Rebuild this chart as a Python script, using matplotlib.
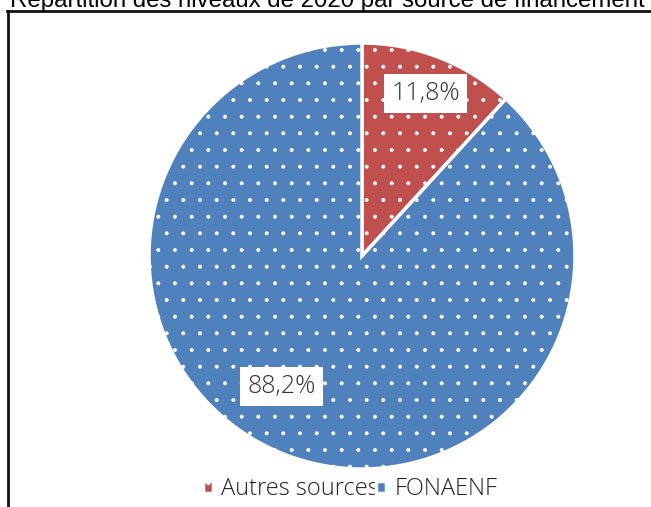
import numpy as np
import matplotlib
matplotlib.use('Agg')
import matplotlib.pyplot as plt
from matplotlib.lines import Line2D

plt.rcParams['font.family'] = ['Open Sans', 'DejaVu Sans']
plt.rcParams['hatch.linewidth'] = 0.4

titre = "Répartition des niveaux de 2020 par source de financement"
sources = ['Autres sources', 'FONAENF']
parts = [11.8, 88.2]
etiquettes = ['11,8%', '88,2%']
couleurs = ['#C0504D', '#4F81BD']

W, H = 651, 507
fig = plt.figure(figsize=(W/100, H/100), dpi=100)

# pie centre (362,256) px, radius 213 px
cx, cy, r = 362, 256, 213
ax = fig.add_axes([(cx-r)/W, (H-cy-r)/H, 2*r/W, 2*r/H])
wedges, _ = ax.pie(parts, colors=couleurs, startangle=90, counterclock=False,
                   wedgeprops=dict(edgecolor='white', linewidth=2.5, hatch='.'))
ax.set_xlim(-1, 1)
ax.set_ylim(-1, 1)

# label placement (radius, angle in degrees)
pos = [(0.82, 68.6), (0.72, -121.7)]
for lab, (rr, ang) in zip(etiquettes, pos):
    a = np.deg2rad(ang)
    ax.text(rr*np.cos(a), rr*np.sin(a), lab, ha='center', va='center', fontsize=18,
            color='#333333', fontweight='light',
            bbox=dict(boxstyle='square,pad=0.28', fc='white', ec='none'))

leg = fig.legend(wedges, sources, loc='center', bbox_to_anchor=(0.538, 1-489/H), ncol=2,
                 frameon=False, handlelength=0.4, handleheight=0.4,
                 handletextpad=0.35, columnspacing=-0.1,
                 prop=dict(family='Open Sans', size=17, weight='light'))
for t in leg.get_texts():
    t.set_color('#222222')

fig.text(10/W, 1-7/H, titre, ha='left', va='baseline', fontsize=17.3, color='black',
         family='Liberation Sans')

fig.add_artist(Line2D([7/W, 1], [1-11/H, 1-11/H], color='#111111', lw=2))
fig.add_artist(Line2D([8/W, 8/W], [1-11/H, 0], color='#111111', lw=2))

fig.savefig('out.png', dpi=100)
